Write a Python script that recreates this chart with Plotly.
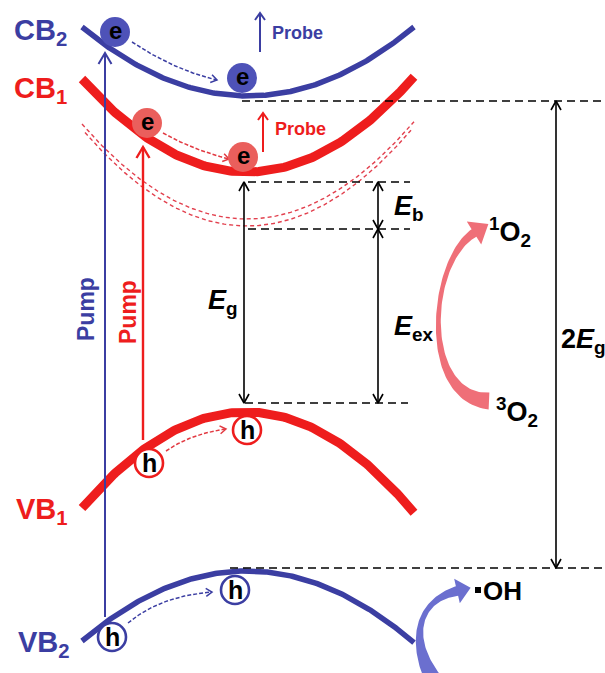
import numpy as np
import plotly.graph_objects as go

W, H = 605, 673

# ---------------- data (schematic levels; y grows downward) ----------------
band_names = ["CB<sub>2</sub>", "CB<sub>1</sub>", "VB<sub>1</sub>", "VB<sub>2</sub>"]
band_k0 = [248, 247, 246, 247]          # k of band extremum
band_E0 = [96, 172, 412, 571]           # level at band extremum
band_Eedge = [27, 79, 508, 641]         # level at the edge of the k range
k_range = [82, 414]
band_label_k = [12, 12, 14, 16]
band_label_E = [28, 86, 507, 640]

exciton_E0 = [219, 226]                 # dashed (exciton) bands
exciton_Eedge = [124, 129]

levels_E = [101, 182, 229, 403, 568]    # dashed reference levels
levels_k0 = [242, 248, 248, 245, 230]
levels_k1 = [605, 410, 410, 408, 605]

gap_k = [244, 378, 378, 556]            # double arrows: Eg, Eb, Eex, 2Eg
gap_top = [182, 182, 229, 101]
gap_bot = [403, 229, 403, 568]
gap_text = ["<b><i>E</i><sub>g</sub></b>", "<b><i>E</i><sub>b</sub></b>",
            "<b><i>E</i><sub>ex</sub></b>", "<b>2<i>E</i><sub>g</sub></b>"]
gap_text_k = [206, 392, 392, 559]
gap_text_E = [299, 205, 325, 338]

elec_k = [115, 242, 147, 243]
elec_E = [32, 78, 123, 157]
hole_k = [149, 247, 112, 235]
hole_E = [463, 430, 637, 590]

pump_k = [105, 143]
pump_from = [617, 440]
pump_to = [53, 147]

probe_k = [260, 263]
probe_from = [52, 152]
probe_to = [13, 113]

BLUE = "#3b3ea2"
RED = "#ee1d1d"
EBLUE = "#4e52b8"
ERED = "#ea5f5c"

fig = go.Figure()


def parabola(k0, E0, Eedge, k):
    a = (Eedge - E0) / (k_range[0] - k0) ** 2
    return E0 + a * (k - k0) ** 2


def vhead(xt, yt, dx, dy, L=9.0, hw=5.0):
    n = np.hypot(dx, dy)
    ux, uy = dx / n, dy / n
    px, py = -uy, ux
    return ([xt - L * ux + hw * px, xt, xt - L * ux - hw * px, None],
            [yt - L * uy + hw * py, yt, yt - L * uy - hw * py, None])


def qbez(p0, p1, p2, n=40):
    t = np.linspace(0, 1, n)
    x = (1 - t) ** 2 * p0[0] + 2 * (1 - t) * t * p1[0] + t ** 2 * p2[0]
    y = (1 - t) ** 2 * p0[1] + 2 * (1 - t) * t * p1[1] + t ** 2 * p2[1]
    return x, y


def line(x, y, color, width, dash=None):
    fig.add_trace(go.Scatter(x=list(x), y=list(y), mode="lines", hoverinfo="skip",
                             line=dict(color=color, width=width, dash=dash)))


# exciton dashed bands
k = np.linspace(k_range[0], k_range[1], 200)
for i, (e0, ee) in enumerate(zip(exciton_E0, exciton_Eedge)):
    kk = np.linspace(k_range[0] + 3 * i, k_range[1] - 3 * i, 200)
    line(kk, parabola(247, e0, ee, kk), "#e2404e", 1.4, "4px,3px")

# bands
band_colors = [BLUE, RED, RED, BLUE]
band_widths = [5.5, 9, 9, 5.5]
for i in range(4):
    line(k, parabola(band_k0[i], band_E0[i], band_Eedge[i], k), band_colors[i], band_widths[i])

# dashed reference levels
for e, a, b in zip(levels_E, levels_k0, levels_k1):
    line([a, b], [e, e], "black", 1.6, "8px,5px")

# double arrows
xs, ys = [], []
for kx, t, b in zip(gap_k, gap_top, gap_bot):
    xs += [kx, kx, None]
    ys += [t, b, None]
    hx, hy = vhead(kx, t, 0, -1)
    xs += hx; ys += hy
    hx, hy = vhead(kx, b, 0, 1)
    xs += hx; ys += hy
line(xs, ys, "black", 1.6)

# pump arrows
for kx, a, b, c, w in zip(pump_k, pump_from, pump_to, [BLUE, RED], [2, 2.4]):
    hx, hy = vhead(kx, b, 0, -1, 11, 6.5)
    line([kx, kx, None] + hx, [a, b, None] + hy, c, w)

# probe arrows
for kx, a, b, c in zip(probe_k, probe_from, probe_to, [BLUE, RED]):
    hx, hy = vhead(kx, b, 0, -1, 7, 5)
    line([kx, kx, None] + hx, [a, b, None] + hy, c, 2)

# relaxation (dashed) arrows
relax = [((132, 42), (174, 70), (217, 80), "#3b3ea2"),
         ((163, 133), (193, 150), (229, 159), "#e23a42"),
         ((166, 451), (190, 434), (226, 429), "#e23a42"),
         ((128, 623), (160, 596), (212, 592), "#3b3ea2")]
for p0, p1, p2, c in relax:
    x, y = qbez(p0, p1, p2)
    line(x, y, c, 1.5, "4px,2px")
    hx, hy = vhead(p2[0], p2[1], p2[0] - p1[0], p2[1] - p1[1], 6, 4)
    line(hx, hy, c, 1.5)


# fat curved arrows
def fat_arrow(P, w0, w1, w2, head_w, head_len, color, n=80):
    t = np.linspace(0, 1, n)
    P0, P1, P2, P3 = [np.array(p, float) for p in P]
    B = (((1 - t) ** 3)[:, None] * P0 + (3 * (1 - t) ** 2 * t)[:, None] * P1
         + (3 * (1 - t) * t ** 2)[:, None] * P2 + (t ** 3)[:, None] * P3)
    D = ((3 * (1 - t) ** 2)[:, None] * (P1 - P0) + (6 * (1 - t) * t)[:, None] * (P2 - P1)
         + (3 * t ** 2)[:, None] * (P3 - P2))
    D /= np.linalg.norm(D, axis=1)[:, None]
    N = np.stack([-D[:, 1], D[:, 0]], axis=1)
    w = w0 * (2 * t - 1) * (t - 1) + w1 * (-4 * t) * (t - 1) + w2 * t * (2 * t - 1)
    Lp = B + N * (w / 2)[:, None]
    Rp = B - N * (w / 2)[:, None]
    tip = P3 + D[-1] * head_len
    wl = P3 + N[-1] * head_w / 2
    wr = P3 - N[-1] * head_w / 2
    pts = np.vstack([Lp, wl, tip, wr, Rp[::-1], Lp[:1]])
    fig.add_trace(go.Scatter(x=pts[:, 0], y=pts[:, 1], mode="lines", fill="toself",
                             fillcolor=color, line=dict(width=0, color=color), hoverinfo="skip"))


fat_arrow([(489, 401), (420, 398), (428, 262), (474, 233)], 17, 5, 9, 27, 17, "#ef6f78")
fat_arrow([(440, 690), (405, 640), (418, 600), (457, 591)], 20, 6, 10, 25, 14, "#6b6fcf")

# electrons and holes (circles)
shapes = []
for kx, e, c in zip(elec_k, elec_E, [EBLUE, EBLUE, ERED, ERED]):
    r = 15
    shapes.append(dict(type="circle", xref="x", yref="y", x0=kx - r, x1=kx + r, y0=e - r, y1=e + r,
                       fillcolor=c, line=dict(width=0), layer="above"))
for kx, e, c in zip(hole_k, hole_E, [RED, RED, BLUE, BLUE]):
    r = 14
    shapes.append(dict(type="circle", xref="x", yref="y", x0=kx - r, x1=kx + r, y0=e - r, y1=e + r,
                       fillcolor="white", line=dict(width=2.6, color=c), layer="above"))
# radical dot
shapes.append(dict(type="rect", xref="x", yref="y", x0=475, x1=481, y0=587, y1=593,
                   fillcolor="black", line=dict(width=0), layer="above"))

ann = []
FONT = "Arial, Liberation Sans, sans-serif"


def txt(x, y, s, size, color="black", xa="left", ya="middle", angle=0, yshift=0):
    ann.append(dict(x=x, y=y, xref="x", yref="y", text=s, showarrow=False, xanchor=xa, yanchor=ya,
                    textangle=angle, yshift=yshift,
                    font=dict(family=FONT, size=size, color=color)))


for kx, e in zip(elec_k, elec_E):
    txt(kx, e, "<b>e</b>", 24, xa="center", yshift=2)
for kx, e in zip(hole_k, hole_E):
    txt(kx, e, "<b>h</b>", 25, xa="center", yshift=0)

band_label_colors = [BLUE, RED, RED, BLUE]
for s, x, y, c in zip(band_names, band_label_k, band_label_E, band_label_colors):
    txt(x, y, "<b>" + s + "</b>", 29, c, yshift=-4)

for s, x, y in zip(gap_text, gap_text_k, gap_text_E):
    txt(x, y, s, 27, yshift=-3)

txt(270, 33, "<b>Probe</b>", 18, BLUE)
txt(273, 129, "<b>Probe</b>", 18, RED)
txt(86, 309, "<b>Pump</b>", 23, BLUE, xa="center", angle=-90)
txt(128, 312, "<b>Pump</b>", 23, RED, xa="center", angle=-90)

txt(487, 229, "<b><sup>1</sup>O<sub>2</sub></b>", 27, yshift=-3)
txt(494, 409, "<b><sup>3</sup>O<sub>2</sub></b>", 27, yshift=-3)
txt(481, 591, "<b>OH</b>", 26)

fig.update_layout(width=W, height=H, margin=dict(l=0, r=0, t=0, b=0),
                  paper_bgcolor="white", plot_bgcolor="white", showlegend=False,
                  xaxis=dict(range=[0, W], visible=False, fixedrange=True),
                  yaxis=dict(range=[H, 0], visible=False, fixedrange=True),
                  shapes=shapes, annotations=ann)

fig.write_html("out.html", post_script="document.body.style.margin='0';",
               config={"displayModeBar": False})
